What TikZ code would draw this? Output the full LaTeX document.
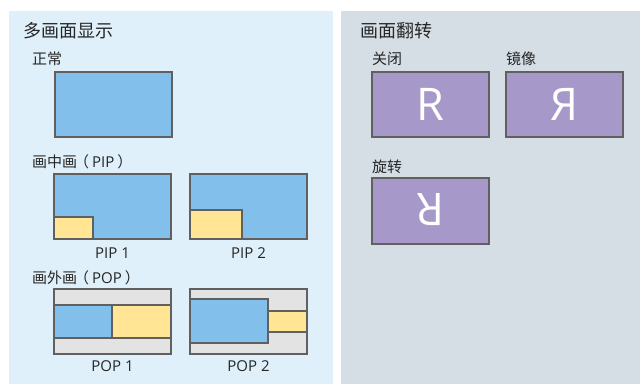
\documentclass[tikz,border=0pt]{standalone}
\usepackage{fontspec}
\setmainfont{Noto Sans CJK SC}
\newfontfamily\latf{Open Sans}
\definecolor{panelL}{HTML}{DFF0FA}
\definecolor{panelR}{HTML}{D4DEE4}
\definecolor{scrblue}{HTML}{82BFEA}
\definecolor{scryel}{HTML}{FFE594}
\definecolor{scrgray}{HTML}{E3E3E3}
\definecolor{scrpur}{HTML}{A699CA}
\definecolor{edge}{HTML}{606060}
\definecolor{txt}{HTML}{262626}
\begin{document}
\begin{tikzpicture}[x=1pt,y=-1pt,
  scr/.style={draw=edge,line width=1.4pt},
  head/.style={anchor=west,inner sep=0pt,text=txt,font=\fontsize{18}{20}\selectfont},
  sub/.style={anchor=west,inner sep=0pt,text=txt,font=\fontsize{15}{17}\selectfont},
  caplabel/.style={inner sep=0pt,text=txt,font=\latf\fontsize{15}{17}\selectfont},
  bigR/.style={inner sep=0pt,text=white,font=\latf\fontsize{45}{50}\selectfont}]
\useasboundingbox (0,0) rectangle (640,384);
\fill[white] (0,0) rectangle (640,384);
\fill[panelL] (9,11) rectangle (333,384);
\fill[panelR] (341,11) rectangle (640,384);
% left panel
\node[head] (tL) at (23,31) {多画面显示};
\node[sub] (tN) at (32,59) {正常};
\draw[scr,fill=scrblue] (55,72) rectangle (172,137);
\node[sub] (tPIP) at (32,162) {画中画\hspace{-3pt}（\hspace{3pt}{\latf PIP}\hspace{3pt}）};
\draw[scr,fill=scrblue] (54,174) rectangle (171,239);
\draw[scr,fill=scryel] (54,217) rectangle (93,239);
\draw[scr,fill=scrblue] (190,174) rectangle (307,239);
\draw[scr,fill=scryel] (190,210) rectangle (242,239);
\node[caplabel] (p1) at (112.5,253) {PIP 1};
\node[caplabel] (p2) at (248.5,253) {PIP 2};
\node[sub] (tPOP) at (32,278) {画外画\hspace{-3pt}（\hspace{3pt}{\latf POP}\hspace{3pt}）};
\draw[scr,fill=scrgray] (54,289) rectangle (171,354);
\draw[scr,fill=scrblue] (54,305) rectangle (112,338);
\draw[scr,fill=scryel] (112,305) rectangle (171,338);
\draw[scr,fill=scrgray] (190,289) rectangle (307,354);
\draw[scr,fill=scryel] (268,311) rectangle (307,332);
\draw[scr,fill=scrblue] (190,299) rectangle (268,343);
\node[caplabel] (o1) at (112.5,366) {POP 1};
\node[caplabel] (o2) at (248.5,366) {POP 2};
% right panel
\node[head] (tR) at (360,31) {画面翻转};
\node[sub] (tOff) at (372,59) {关闭};
\node[sub] (tMir) at (506,59) {镜像};
\draw[scr,fill=scrpur] (372,72) rectangle (489,137);
\node[bigR] (r1) at (430.5,104.5) {R};
\draw[scr,fill=scrpur] (506,72) rectangle (623,137);
\node[bigR,xscale=-1] (r2) at (564.5,104.5) {R};
\node[sub] (tRot) at (372,167) {旋转};
\draw[scr,fill=scrpur] (372,178) rectangle (489,244);
\node[bigR,rotate=180] (r3) at (430.5,210) {R};
\end{tikzpicture}
\end{document}
